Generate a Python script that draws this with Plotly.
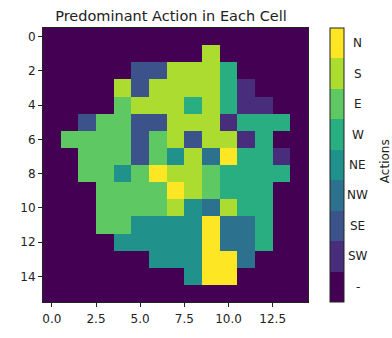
import plotly.graph_objects as go

actions = ["-", "SW", "SE", "NW", "NE", "W", "E", "S", "N"]
colors = ["#440154", "#472d7b", "#3b528b", "#2c728e", "#21918c",
          "#28ae80", "#5ec962", "#addc30", "#fde725"]

grid = [
    [0, 0, 0, 0, 0, 0, 0, 0, 0, 0, 0, 0, 0, 0, 0],
    [0, 0, 0, 0, 0, 0, 0, 0, 0, 7, 0, 0, 0, 0, 0],
    [0, 0, 0, 0, 0, 2, 2, 7, 7, 7, 5, 0, 0, 0, 0],
    [0, 0, 0, 0, 7, 2, 7, 7, 7, 7, 5, 1, 0, 0, 0],
    [0, 0, 0, 0, 6, 7, 7, 7, 5, 7, 5, 1, 1, 0, 0],
    [0, 0, 2, 6, 6, 2, 2, 7, 7, 7, 1, 5, 5, 5, 0],
    [0, 6, 6, 6, 6, 2, 6, 7, 2, 7, 7, 1, 5, 0, 0],
    [0, 0, 6, 6, 6, 2, 6, 4, 7, 3, 8, 5, 5, 1, 0],
    [0, 0, 6, 6, 4, 6, 8, 7, 7, 6, 5, 5, 5, 5, 0],
    [0, 0, 0, 6, 6, 6, 6, 8, 7, 6, 5, 5, 5, 0, 0],
    [0, 0, 0, 6, 6, 6, 6, 7, 4, 3, 7, 5, 5, 0, 0],
    [0, 0, 0, 6, 6, 4, 4, 4, 4, 8, 3, 3, 5, 0, 0],
    [0, 0, 0, 0, 4, 4, 4, 4, 4, 8, 3, 3, 5, 0, 0],
    [0, 0, 0, 0, 0, 0, 4, 4, 4, 8, 8, 3, 0, 0, 0],
    [0, 0, 0, 0, 0, 0, 0, 0, 4, 8, 8, 0, 0, 0, 0],
    [0, 0, 0, 0, 0, 0, 0, 0, 0, 0, 0, 0, 0, 0, 0],
]

W, H = 392, 338
L, R, T, B = 43, 308, 28, 312
pw = R - L
ph = B - T
FONT = "DejaVu Sans"
TXT = "#222"

n = len(actions)
colorscale = []
for i, c in enumerate(colors):
    colorscale.append([i / n, c])
    colorscale.append([(i + 1) / n, c])

xs = list(range(len(grid[0])))
ys = list(range(len(grid)))

cb_left = 330
cb_right = 344
fig = go.Figure(go.Heatmap(
    z=grid, x=xs, y=ys,
    colorscale=colorscale, zmin=-0.5, zmax=n - 0.5,
    colorbar=dict(
        tickvals=list(range(n)), showticklabels=False,
        thickness=cb_right - cb_left, len=1.0, lenmode="fraction",
        y=0.5, yanchor="middle",
        x=1 + (cb_left - R) / pw, xanchor="left", xpad=0, ypad=0,
        outlinewidth=1, outlinecolor=TXT,
        ticks="",
    ),
    hoverinfo="skip",
))

annotations = []
for i, a in enumerate(actions):
    annotations.append(dict(
        text=a, xref="paper", yref="paper",
        x=1 + (357.5 - R) / pw, y=(i + 0.5) / n,
        xanchor="center", yanchor="middle", showarrow=False,
        font=dict(family=FONT, size=12, color=TXT)))
# colorbar label
annotations.append(dict(
    text="Actions", xref="paper", yref="paper",
    x=1 + (385 - R) / pw, y=1 - (166 - T) / ph, xanchor="center", yanchor="middle",
    textangle=-90, showarrow=False, borderpad=0,
    font=dict(family=FONT, size=12, color=TXT)))

axis_common = dict(
    showgrid=False, zeroline=False, showline=True, linecolor=TXT,
    linewidth=1, mirror=True, ticks="outside", ticklen=4, tickcolor=TXT,
    tickfont=dict(family=FONT, size=12, color=TXT),
)

fig.update_layout(
    width=W, height=H,
    margin=dict(l=L, r=W - R, t=T, b=H - B),
    paper_bgcolor="white", plot_bgcolor="white",
    title=dict(text="Predominant Action in Each Cell", x=171 / W,
               xanchor="center", y=1 - 16 / H, yanchor="middle",
               font=dict(family=FONT, size=14.5, color=TXT)),
    xaxis=dict(range=[-0.5, 14.5], tickvals=[0, 2.5, 5, 7.5, 10, 12.5],
               ticktext=["0.0", "2.5", "5.0", "7.5", "10.0", "12.5"],
               ticklabelstandoff=2, **axis_common),
    yaxis=dict(range=[15.5, -0.5], tickvals=list(range(0, 16, 2)),
               **axis_common),
    annotations=annotations,
)

fig.write_html("out.html")
